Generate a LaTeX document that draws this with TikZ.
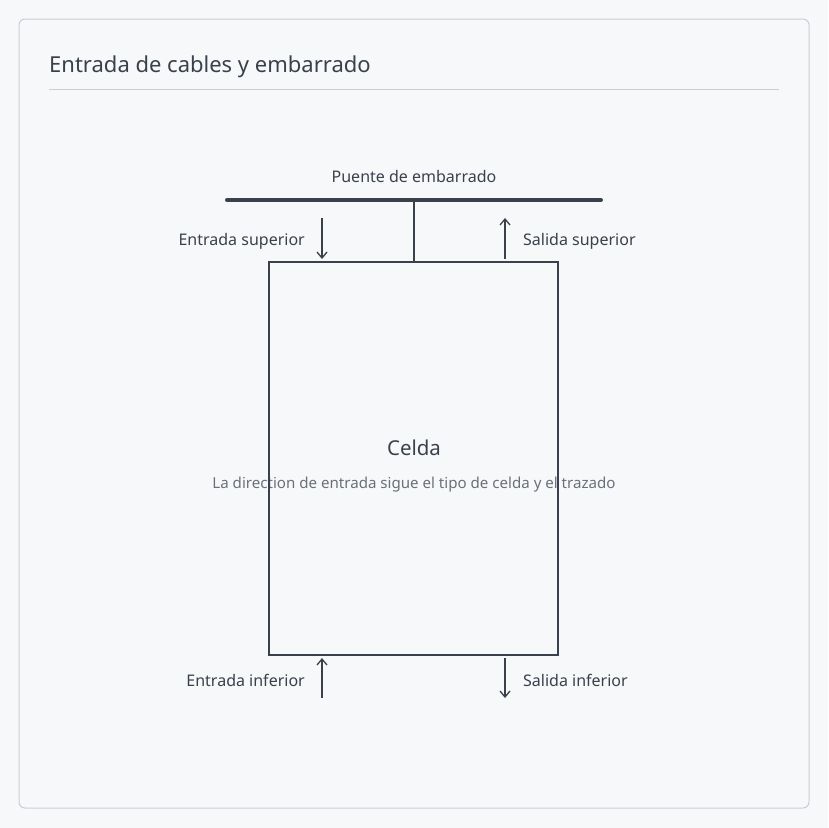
\documentclass[tikz,border=0pt]{standalone}
\usepackage{fontspec}
\setmainfont{Noto Sans}
\usetikzlibrary{arrows.meta}
\definecolor{ink}{HTML}{3A414C}
\definecolor{bord}{HTML}{C9CDD6}
\definecolor{cardbg}{HTML}{F7F8FA}
\definecolor{sub}{HTML}{6B7078}
\begin{document}
\begin{tikzpicture}[x=1pt,y=-1pt,
  lbl/.style={font=\fontsize{16}{19}\selectfont,text=ink,inner sep=0pt},
  arr/.style={draw=ink,line width=1.3pt,-{Straight Barb[length=6pt,width=10pt]}}]
\useasboundingbox[fill=cardbg] (0,0) rectangle (828,828);
\draw[bord,line width=1pt,rounded corners=6pt,fill=cardbg] (19,19) rectangle (809,808);
\node[anchor=west,inner sep=0pt,text=ink,font=\fontsize{22}{26}\selectfont] (title) at (49,67) {Entrada de cables y embarrado};
\draw[bord,line width=1pt] (49,89) -- (779,89);
\node[lbl] (busl) at (414,176) {Puente de embarrado};
\coordinate (bl) at (227,200); \coordinate (br) at (601,200);
\draw[ink,line width=4pt,line cap=round] (bl) -- (br);
\node[inner sep=0pt,text=ink,font=\fontsize{20.5}{24}\selectfont] (celdat) at (414,448) {Celda};
\node[inner sep=0pt,text=sub,font=\fontsize{15.1}{18}\selectfont] (cap) at (414,485) {La direction de entrada sigue el tipo de celda y el trazado};
\node[draw=ink,line width=2pt,minimum width=289pt,minimum height=393pt,inner sep=0pt] (cell) at (413.5,458.5) {};
\coordinate (bj) at (414,200);
\draw[ink,line width=2pt] (bj) -- (bj |- cell.north);
\coordinate (a1s) at (322,218); \coordinate (a1e) at (322,259);
\coordinate (a2s) at (505,259); \coordinate (a2e) at (505,218);
\coordinate (a3s) at (322,698); \coordinate (a3e) at (322,658);
\coordinate (a4s) at (505,658); \coordinate (a4e) at (505,698);
\draw[arr] (a1s) -- (a1e);
\draw[arr] (a2s) -- (a2e);
\draw[arr] (a3s) -- (a3e);
\draw[arr] (a4s) -- (a4e);
\node[lbl,anchor=east] (l1) at (305,241) {Entrada superior};
\node[lbl,anchor=west] (l2) at (523,241) {Salida superior};
\node[lbl,anchor=east] (l3) at (305,680) {Entrada inferior};
\node[lbl,anchor=west] (l4) at (523,680) {Salida inferior};
\end{tikzpicture}
\end{document}
